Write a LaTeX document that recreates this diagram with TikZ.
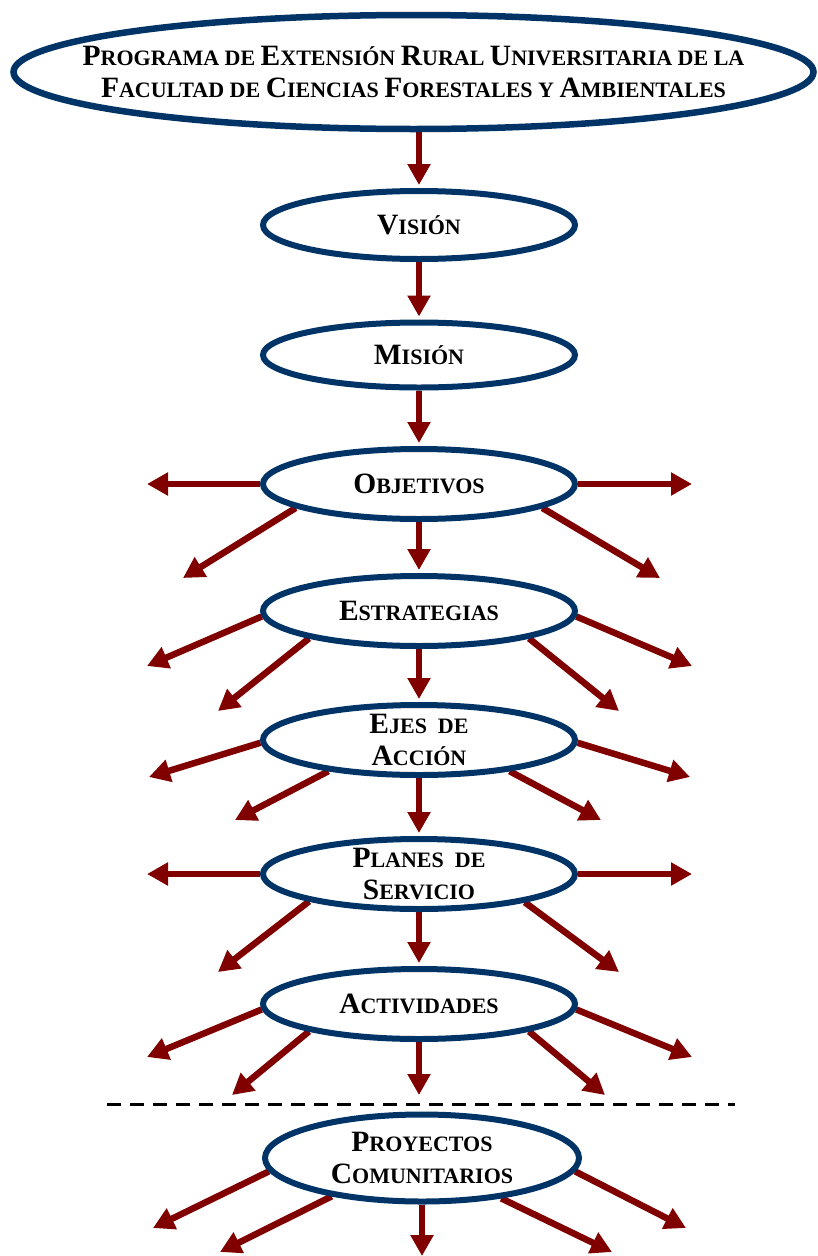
\documentclass[tikz,border=0pt]{standalone}
\usepackage{fontspec}
\setmainfont{Liberation Serif}
\usetikzlibrary{shapes.geometric,arrows.meta,backgrounds}
\definecolor{navy}{RGB}{0,51,102}
\definecolor{maroon}{RGB}{128,0,0}
\newcommand\Bg[1]{{\fontsize{29.5}{33}\selectfont #1}}
\begin{document}
\begin{tikzpicture}[x=1pt,y=-1pt,
  oval/.style={ellipse, draw=navy, line width=6pt, fill=white, minimum width=312pt, minimum height=70pt, inner sep=-8pt, align=center, font=\bfseries\fontsize{22}{32}\selectfont},
  arr/.style={color=maroon, line width=6.5pt, -{Triangle[length=21pt,width=22pt]}},
  vert/.style={arr, shorten >=3pt}]
\useasboundingbox (0,0) rectangle (817,1256);

\node[oval, minimum width=800pt, minimum height=114pt, line width=6.5pt, inner xsep=-80pt, inner ysep=-20pt] (prog) at (413.5,72)
  {\Bg{P}ROGRAMA DE \Bg{E}XTENSIÓN \Bg{R}URAL \Bg{U}NIVERSITARIA DE LA\\\Bg{F}ACULTAD DE \Bg{C}IENCIAS \Bg{F}ORESTALES Y \Bg{A}MBIENTALES};
\node[oval, minimum height=68pt] (vis) at (419,225) {\Bg{V}ISIÓN};
\node[oval, minimum height=65pt] (mis) at (419,355) {\Bg{M}ISIÓN};
\node[oval] (obj) at (419,484) {\Bg{O}BJETIVOS};
\node[oval] (est) at (419,611) {\Bg{E}STRATEGIAS};
\node[oval] (eje) at (419,740) {\Bg{E}JES\ \ DE\\\Bg{A}CCIÓN};
\node[oval] (pla) at (419,874) {\Bg{P}LANES\ \ DE\\\Bg{S}ERVICIO};
\node[oval] (act) at (419,1004) {\Bg{A}CTIVIDADES};
\node[oval, minimum width=314pt, minimum height=87pt] (pro) at (422,1158) {\Bg{P}ROYECTOS\\\Bg{C}OMUNITARIOS};

% free ends
\coordinate (o1) at (147,484);
\coordinate (o2) at (183,578);
\coordinate (o4) at (660,578);
\coordinate (o5) at (692,484);
\coordinate (e1) at (147,666);
\coordinate (e2) at (218,711);
\coordinate (e4) at (619,711);
\coordinate (e5) at (692,666);
\coordinate (j1) at (149,777);
\coordinate (j2) at (235,820);
\coordinate (j4) at (601,820);
\coordinate (j5) at (690,777);
\coordinate (s1) at (147,874);
\coordinate (s2) at (218,972);
\coordinate (s4) at (619,972);
\coordinate (s5) at (692,874);
\coordinate (a1) at (147,1057);
\coordinate (a2) at (232,1095);
\coordinate (a3) at (419,1095);
\coordinate (a4) at (605,1095);
\coordinate (a5) at (692,1057);
\coordinate (p1) at (153,1228);
\coordinate (p2) at (220,1252);
\coordinate (p3) at (422,1256);
\coordinate (p4) at (612,1252);
\coordinate (p5) at (686,1228);

\begin{scope}[on background layer]
\draw[vert] (prog.south -| vis.north) -- (vis.north);
\draw[vert] (vis) -- (mis);
\draw[vert] (mis) -- (obj);
\draw[vert] (obj) -- (est);
\draw[vert] (est) -- (eje);
\draw[vert] (eje) -- (pla);
\draw[vert] (pla) -- (act);
\draw[arr] (act) -- (a3);
\draw[arr] (pro) -- (p3);

\draw[arr] (obj.180) -- (o1);
\draw[arr] (obj.191) -- (o2);
\draw[arr] (obj.349) -- (o4);
\draw[arr] (obj.0) -- (o5);

\draw[arr] (est.182) -- (e1);
\draw[arr] (est.194) -- (e2);
\draw[arr] (est.346) -- (e4);
\draw[arr] (est.358) -- (e5);

\draw[arr] (eje.181) -- (j1);
\draw[arr] (eje.199) -- (j2);
\draw[arr] (eje.341) -- (j4);
\draw[arr] (eje.359) -- (j5);

\draw[arr] (pla.180) -- (s1);
\draw[arr] (pla.194.6) -- (s2);
\draw[arr] (pla.345) -- (s4);
\draw[arr] (pla.0) -- (s5);

\draw[arr] (act.182) -- (a1);
\draw[arr] (act.194) -- (a2);
\draw[arr] (act.346) -- (a4);
\draw[arr] (act.358) -- (a5);

\draw[arr] (pro.185) -- (p1);
\draw[arr] (pro.203) -- (p2);
\draw[arr] (pro.333) -- (p4);
\draw[arr] (pro.355) -- (p5);
\end{scope}

\draw[black, line width=3pt, dash pattern=on 14pt off 9pt] (107,1104) -- (735,1104);
\end{tikzpicture}
\end{document}
